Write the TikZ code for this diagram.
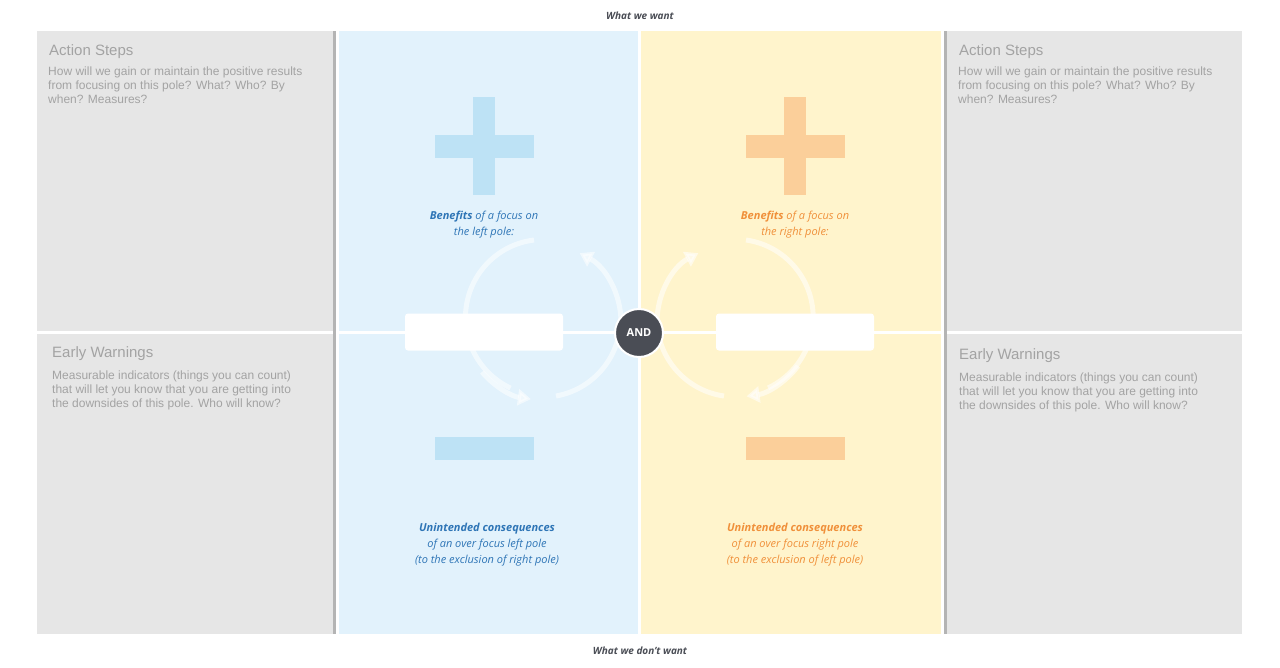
\documentclass[tikz,border=0pt]{standalone}
\usepackage{fontspec}
\setmainfont{Liberation Sans}
\newfontfamily\labelfont{Open Sans}
\usetikzlibrary{arrows.meta}
\definecolor{panelgrey}{HTML}{E6E6E6}
\definecolor{stripegrey}{HTML}{B4B4B4}
\definecolor{textgrey}{HTML}{A3A3A3}
\definecolor{leftbg}{HTML}{E2F2FC}
\definecolor{rightbg}{HTML}{FFF4CC}
\definecolor{leftsign}{HTML}{BDE2F5}
\definecolor{rightsign}{HTML}{FBCF9A}
\definecolor{leftink}{HTML}{2E75B6}
\definecolor{rightink}{HTML}{F0903A}
\definecolor{anddark}{HTML}{4A4D55}

\begin{document}
\begin{tikzpicture}[x=1pt,y=-1pt]

\useasboundingbox (0,0) rectangle (1280,667);

% panels
\fill [panelgrey] (37,31) rectangle (336,331);
\fill [panelgrey] (37,334) rectangle (336,634);
\fill [stripegrey] (333,31) rectangle (336,634);
\fill [leftbg] (339,31) rectangle (638,634);
\fill [rightbg] (641,31) rectangle (941,634);
\fill [panelgrey] (944,31) rectangle (1242,331);
\fill [panelgrey] (944,334) rectangle (1242,634);
\fill [stripegrey] (944,31) rectangle (947,634);
\fill [white] (339,331) rectangle (941,334);

% plus and minus signs
\fill [leftsign] (473,97) rectangle (495,195);
\fill [leftsign] (435,135) rectangle (534,158);
\fill [leftsign] (435,437) rectangle (534,460);
\fill [rightsign] (784,97) rectangle (806,195);
\fill [rightsign] (746,135) rectangle (845,158);
\fill [rightsign] (746,437) rectangle (845,460);

% loops
\begin{scope}[white, opacity=0.55, line width=5pt, >={Triangle[length=13pt,width=16pt]}]
    \draw [->] (621,322) arc [start angle=0, end angle=-62, radius=78];
    \draw (534,240) arc [start angle=-97, end angle=-245, radius=78];
    \draw [->] (482,372) arc [start angle=-220, end angle=-262, radius=78];
    \draw (556,396) arc [start angle=-280, end angle=-355, radius=78];
    \draw [->] (657,322) arc [start angle=180, end angle=242, radius=78];
    \draw (746,240) arc [start angle=-82, end angle=65, radius=78];
    \draw [->] (798,366) arc [start angle=37, end angle=82, radius=78];
    \draw (724,396) arc [start angle=98, end angle=175, radius=78];
\end{scope}

\node (leftbox) at (484,332) [fill=white, rounded corners=3pt, minimum width=158pt, minimum height=37pt] {};
\node (rightbox) at (795,332) [fill=white, rounded corners=3pt, minimum width=158pt, minimum height=37pt] {};
\node (and) at (639,333) [circle, fill=anddark, draw=white, line width=2pt, minimum size=48pt, text=white, font=\labelfont\bfseries\fontsize{11}{13}\selectfont] {AND};

% headings over and under
\begin{scope}[every node/.style={text=anddark, font=\labelfont\bfseries\itshape\fontsize{10}{12}\selectfont}]
    \node (want) at (640,16) {What we want};
    \node (dontwant) at (640,651) {What we don’t want};
\end{scope}

% pole labels
\begin{scope}[every node/.style={align=center, font=\labelfont\itshape\fontsize{11}{16}\selectfont}]
    \node (lbenefit) at (484,225) [text=leftink] {\textbf{Benefits} of a focus on\\the left pole:};
    \node (rbenefit) at (795,225) [text=rightink] {\textbf{Benefits} of a focus on\\the right pole:};
    \node (lconseq) at (487,545) [text=leftink] {\textbf{Unintended consequences}\\of an over focus left pole\\(to the exclusion of right pole)};
    \node (rconseq) at (795,545) [text=rightink] {\textbf{Unintended consequences}\\of an over focus right pole\\(to the exclusion of left pole)};
\end{scope}

% grey panel texts
\begin{scope}[every node/.style={anchor=north west, text=textgrey, align=left, inner sep=0pt}]
    \node (lsteps) at (49,44) [font=\fontsize{15}{18}\selectfont] {Action Steps};
    \node (lstepstext) at (48,67) [font=\fontsize{12}{14}\selectfont] {How will we gain or maintain the positive results\\from focusing on this pole? What? Who? By\\when? Measures?};
    \node (rsteps) at (959,44) [font=\fontsize{15}{18}\selectfont] {Action Steps};
    \node (rstepstext) at (958,67) [font=\fontsize{12}{14}\selectfont] {How will we gain or maintain the positive results\\from focusing on this pole? What? Who? By\\when? Measures?};
    \node (lwarn) at (52,346) [font=\fontsize{15}{18}\selectfont] {Early Warnings};
    \node (lwarntext) at (52,371) [font=\fontsize{12}{14}\selectfont] {Measurable indicators (things you can count)\\that will let you know that you are getting into\\the downsides of this pole. Who will know?};
    \node (rwarn) at (959,348) [font=\fontsize{15}{18}\selectfont] {Early Warnings};
    \node (rwarntext) at (959,373) [font=\fontsize{12}{14}\selectfont] {Measurable indicators (things you can count)\\that will let you know that you are getting into\\the downsides of this pole. Who will know?};
\end{scope}

\end{tikzpicture}
\end{document}
